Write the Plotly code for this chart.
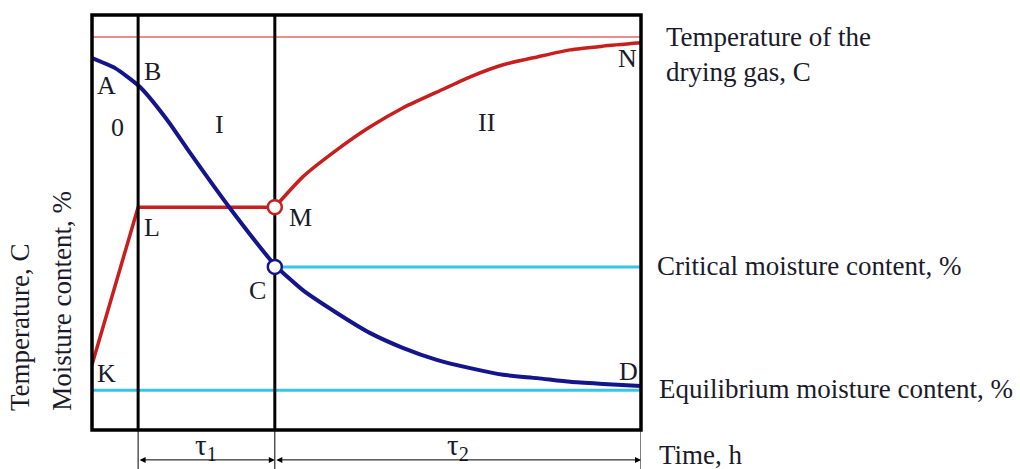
import plotly.graph_objects as go

# ---- data (time axis 0..100, value axis 0..100, arbitrary units) ----
phase_bounds = [8.4, 33.3]          # end of stage 0, end of stage I
gas_temp = 94.7                      # temperature of drying gas
critical_mc = 39.3                   # critical moisture content
equilibrium_mc = 9.6                 # equilibrium moisture content

moist_t = [0, 4.2, 8.7, 13.7, 17.9, 25.1, 33.3, 38.4, 44.6, 50.6, 56.6, 62.8, 68.9, 74.9, 81.1, 87.1, 93.1, 100]
moist_v = [89.6, 87.2, 82.7, 74.7, 66.7, 53.5, 39.8, 33.7, 28.2, 23.4, 19.8, 16.9, 14.9, 13.3, 12.5, 11.6, 11.1, 10.6]

temp_t = [0, 8.4, 33.3, 38.4, 44.6, 50.6, 56.6, 62.8, 68.9, 74.9, 81.1, 87.1, 93.1, 100]
temp_v = [15.7, 53.7, 53.7, 61.0, 67.5, 73.0, 77.6, 81.4, 85.1, 88.0, 89.9, 91.6, 92.5, 93.3]

point_labels = ["A", "B", "0", "I", "II", "L", "M", "C", "N", "D", "K"]
point_x = [2.7, 11.1, 4.6, 23.3, 71.9, 10.9, 37.9, 30.2, 97.5, 97.8, 2.7]
point_y = [83.1, 86.3, 73.0, 73.5, 74.0, 48.7, 51.1, 33.7, 89.6, 14.2, 13.5]

FONT = "Liberation Serif"
TXT = "#1a1a2a"
RED = "#c81e1e"
BLUE = "#14148c"
CYAN = "#38c4ea"
FS = 27

fig = go.Figure()

# reference lines
fig.add_trace(go.Scatter(x=[0, 100], y=[gas_temp, gas_temp], mode="lines",
                         line=dict(color="rgba(225,80,80,0.65)", width=2), hoverinfo="skip"))
fig.add_trace(go.Scatter(x=[phase_bounds[1], 100], y=[critical_mc, critical_mc], mode="lines",
                         line=dict(color=CYAN, width=3), hoverinfo="skip"))
fig.add_trace(go.Scatter(x=[0, 100], y=[equilibrium_mc, equilibrium_mc], mode="lines",
                         line=dict(color=CYAN, width=3), hoverinfo="skip"))

# temperature curve: straight warm-up + constant part, then curved part
fig.add_trace(go.Scatter(x=temp_t[:3], y=temp_v[:3], mode="lines",
                         line=dict(color=RED, width=3.5)))
fig.add_trace(go.Scatter(x=temp_t[2:], y=temp_v[2:], mode="lines",
                         line=dict(color=RED, width=3.5, shape="spline", smoothing=0.6)))
# moisture curve
fig.add_trace(go.Scatter(x=moist_t, y=moist_v, mode="lines",
                         line=dict(color=BLUE, width=4, shape="spline", smoothing=0.6)))

# phase boundaries (vertical black lines)
for xb in phase_bounds:
    fig.add_trace(go.Scatter(x=[xb, xb], y=[0, 100], mode="lines",
                             line=dict(color="black", width=3), hoverinfo="skip"))

# circles at M and C
fig.add_trace(go.Scatter(x=[phase_bounds[1]], y=[temp_v[2]], mode="markers",
                         marker=dict(size=14, color="white", line=dict(color=RED, width=2.5))))
fig.add_trace(go.Scatter(x=[phase_bounds[1]], y=[critical_mc], mode="markers",
                         marker=dict(size=14, color="white", line=dict(color=BLUE, width=2.5))))

annotations = []
for t, x, y in zip(point_labels, point_x, point_y):
    annotations.append(dict(x=x, y=y, xref="x", yref="y", text=t, showarrow=False,
                            font=dict(family=FONT, size=FS - 1, color=TXT)))

right_texts = [
    ("Temperature of the<br>drying gas, C", 1.042, 0.905),
    ("Critical moisture content, %", 1.026, 0.394),
    ("Equilibrium moisture content, %", 1.030, 0.098),
    ("Time, h", 1.030, -0.06),
]
for t, x, y in right_texts:
    annotations.append(dict(x=x, y=y, xref="paper", yref="paper", text=t, showarrow=False,
                            xanchor="left", yanchor="middle", align="left",
                            font=dict(family=FONT, size=FS, color=TXT)))

# y-axis titles
annotations.append(dict(x=-0.131, y=0.041, xref="paper", yref="paper", text="Temperature, C",
                        textangle=-90, showarrow=False, xanchor="center", yanchor="bottom",
                        font=dict(family=FONT, size=FS, color=TXT)))
annotations.append(dict(x=-0.055, y=0.041, xref="paper", yref="paper", text="Moisture content, %",
                        textangle=-90, showarrow=False, xanchor="center", yanchor="bottom",
                        font=dict(family=FONT, size=FS, color=TXT)))

# tau labels and dimension arrows
bounds_all = [phase_bounds[0], phase_bounds[1], 100]
tau_labels = ["τ<sub>1</sub>", "τ<sub>2</sub>"]
for i in range(2):
    x0, x1 = bounds_all[i], bounds_all[i + 1]
    annotations.append(dict(x=(x0 + x1) / 2, y=-0.04, xref="x", yref="paper", text=tau_labels[i],
                            showarrow=False, yanchor="middle",
                            font=dict(family=FONT, size=29, color=TXT)))
    annotations.append(dict(x=x1, y=-0.072, xref="x", yref="paper", ax=x0, ay=0,
                            axref="x", ayref="pixel", text="", showarrow=True,
                            arrowhead=2, arrowside="end+start", arrowsize=1.2, arrowwidth=1,
                            arrowcolor="black"))

shapes = [dict(type="rect", xref="paper", yref="paper", x0=0, x1=1, y0=0, y1=1,
               line=dict(color="black", width=3.5))]
for xb in bounds_all:
    shapes.append(dict(type="line", xref="x", yref="paper", x0=xb, x1=xb, y0=0, y1=-0.1,
                       line=dict(color="black", width=1)))

fig.update_layout(
    width=1020, height=469,
    margin=dict(l=92, r=379, t=15, b=39),
    paper_bgcolor="white", plot_bgcolor="white",
    showlegend=False,
    xaxis=dict(range=[0, 100], visible=False, fixedrange=True),
    yaxis=dict(range=[0, 100], visible=False, fixedrange=True),
    annotations=annotations,
    shapes=shapes,
)

fig.write_html("out.html")
